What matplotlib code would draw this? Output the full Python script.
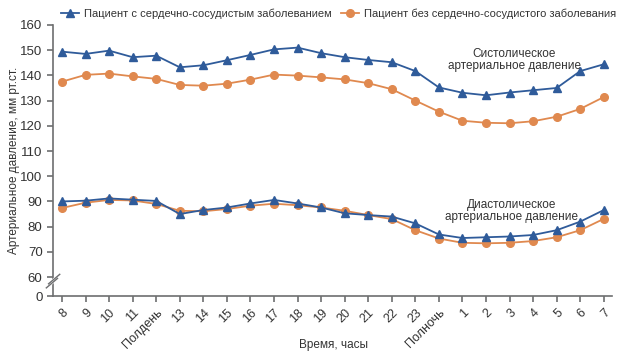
import matplotlib
matplotlib.use("Agg")
import matplotlib.pyplot as plt

plt.rcParams['font.family'] = ['Liberation Sans', 'DejaVu Sans']

horas = ['8', '9', '10', '11', 'Полдень', '13', '14', '15', '16', '17', '18', '19',
         '20', '21', '22', '23', 'Полночь', '1', '2', '3', '4', '5', '6', '7']

sist_doente = [149.4, 148.5, 149.8, 147.2, 147.8, 143.2, 144.0, 146.0, 148.1, 150.3, 151.0, 148.8,
               147.2, 146.1, 145.2, 141.7, 135.2, 133.1, 132.1, 133.2, 134.1, 135.0, 141.7, 144.4]
sist_saudavel = [137.5, 140.2, 140.7, 139.6, 138.6, 136.2, 135.9, 136.7, 138.3, 140.3, 139.9, 139.2,
                 138.4, 136.9, 134.5, 130.0, 125.6, 122.0, 121.2, 121.0, 121.8, 123.6, 126.7, 131.4]
diast_doente = [90.0, 90.3, 91.2, 90.7, 90.2, 85.0, 86.6, 87.6, 89.2, 90.6, 89.2, 87.6,
                85.3, 84.6, 84.0, 81.3, 76.9, 75.5, 75.8, 76.1, 76.7, 78.6, 82.0, 86.6]
diast_saudavel = [87.4, 89.5, 90.6, 90.4, 89.0, 86.3, 86.1, 87.0, 88.3, 89.1, 88.5, 87.6,
                  86.3, 84.6, 83.0, 78.6, 75.3, 73.6, 73.4, 73.6, 74.3, 75.8, 78.6, 83.1]

ticks_y = [52.5, 60, 70, 80, 90, 100, 110, 120, 130, 140, 150, 160]
rotulos_y = ['0', '60', '70', '80', '90', '100', '110', '120', '130', '140', '150', '160']

azul = '#2f5b9a'
laranja = '#e0894f'
cinza = '#6d6e70'
texto = '#333333'

x = list(range(len(horas)))

fig = plt.figure(figsize=(6.42, 3.56), dpi=100)
ax = fig.add_axes([0.0826, 0.1685, 0.8704, 0.7615])

ax.plot(x, sist_doente, '-^', color=azul, markersize=5.5, linewidth=1.3, zorder=3,
        label='Пациент с сердечно-сосудистым заболеванием')
ax.plot(x, sist_saudavel, '-o', color=laranja, markersize=5.5, linewidth=1.3, zorder=2,
        label='Пациент без сердечно-сосудистого заболевания')
ax.plot(x, diast_doente, '-^', color=azul, markersize=5.5, linewidth=1.3, zorder=3)
ax.plot(x, diast_saudavel, '-o', color=laranja, markersize=5.5, linewidth=1.3, zorder=2)

ax.set_xlim(-0.38, 23.34)
ax.set_ylim(52.5, 160)
ax.set_yticks(ticks_y)
ax.set_yticklabels(rotulos_y)
ax.set_xticks(x)
ax.set_xticklabels(horas, rotation=45, ha='right', rotation_mode='anchor')

for lado in ['top', 'right']:
    ax.spines[lado].set_visible(False)
for lado in ['left', 'bottom']:
    ax.spines[lado].set_color(cinza)
    ax.spines[lado].set_linewidth(1.2)
ax.tick_params(colors=cinza, length=4, width=1.2, labelsize=9.5, labelcolor=texto)
ax.tick_params(axis='x', labelsize=9)

# quebra do eixo y
ax.plot([-0.012, 0.012], [0.035, 0.075], transform=ax.transAxes, color='white', linewidth=3, clip_on=False, zorder=5)
ax.plot([-0.012, 0.008], [0.03, 0.065], transform=ax.transAxes, color=cinza, linewidth=1, clip_on=False, zorder=6)
ax.plot([-0.008, 0.012], [0.045, 0.08], transform=ax.transAxes, color=cinza, linewidth=1, clip_on=False, zorder=6)

ax.text(19.2, 146.0, 'Систолическое\nартериальное давление', ha='center', va='center',
        fontsize=8.5, color=texto, linespacing=1.0)
ax.text(19.1, 86.2, 'Диастолическое\nартериальное давление', ha='center', va='center',
        fontsize=8.5, color=texto, linespacing=1.0)

ax.set_ylabel('Артериальное давление, мм рт.ст.', fontsize=8.5, color=texto)
ax.yaxis.set_label_coords(-0.06, 0.5)
fig.text(0.52, 1 - 345 / 356, 'Время, часы', ha='center', va='center', fontsize=8.5, color=texto)

ax.legend(loc='lower left', bbox_to_anchor=(0.005, 1.0), ncol=2, frameon=False,
          fontsize=8, handlelength=1.6, handletextpad=0.4, columnspacing=0.9,
          borderaxespad=0.1, labelcolor=texto)

fig.savefig('out.png', dpi=100)
